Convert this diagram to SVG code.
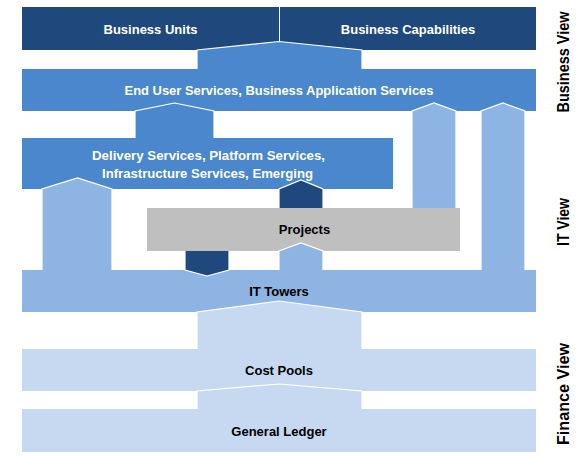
<svg xmlns="http://www.w3.org/2000/svg" width="587" height="457" viewBox="0 0 587 457">
<style>
.navy{fill:#1F497D}
.mid{fill:#4A87CC}
.light{fill:#8DB4E2}
.pale{fill:#C6D9F1}
.gray{fill:#BFBFBF}
.arrow{stroke:#FFFFFF;stroke-width:1.2;stroke-linejoin:miter}
.t{font-family:"Liberation Sans",Arial,sans-serif;font-weight:bold;font-size:13px;text-anchor:middle}
.w{fill:#FFFFFF}
.k{fill:#000000}
.side{font-family:"Liberation Sans",Arial,sans-serif;font-weight:bold;font-size:16px;text-anchor:middle;fill:#000000}
</style>
<rect width="587" height="457" fill="#FFFFFF"/>
<g id="business-units">
<rect class="navy" x="22" y="7" width="257" height="43"/>
<text class="t w" x="150.5" y="34">Business Units</text>
</g>
<g id="business-capabilities">
<rect class="navy" x="280" y="7" width="256" height="43"/>
<text class="t w" x="408" y="34">Business Capabilities</text>
</g>
<g id="end-user-services">
<rect class="mid" x="22" y="69" width="514" height="42"/>
</g>
<g id="delivery-services">
<rect class="mid" x="22" y="138" width="371" height="51"/>
</g>
<g id="projects">
<rect class="gray" x="147" y="208" width="313" height="43"/>
</g>
<g id="it-towers">
<rect class="light" x="22" y="270" width="514" height="42"/>
</g>
<g id="cost-pools">
<rect class="pale" x="22" y="349" width="514" height="42"/>
</g>
<g id="general-ledger">
<rect class="pale" x="22" y="409" width="514" height="43"/>
<text class="t k" x="279" y="436">General Ledger</text>
</g>
<g id="connectors">
<path class="mid arrow" d="M197,69 L197,50 L279,41.5 L362,50 L362,69"/>
<path class="mid arrow" d="M135,138 L135,111 L174.5,103 L214,111 L214,138"/>
<path class="light arrow" d="M42,270 L42,189 L77.5,178 L112,189 L112,270"/>
<path class="light arrow" d="M412,208 L412,111 L434,103 L456,111 L456,208"/>
<path class="light arrow" d="M481,270 L481,111 L503,103 L525,111 L525,270"/>
<path class="navy arrow" d="M279,208 L279,189 L301,180 L323,189 L323,208"/>
<path class="navy arrow" d="M185,251 L185,270 L207,276 L229,270 L229,251"/>
<path class="light arrow" d="M279,270 L279,251 L301,243 L323,251 L323,270"/>
<path class="pale arrow" d="M197,349 L197,312 L279,301 L362,312 L362,349"/>
<path class="pale arrow" d="M197,409 L197,391 L279,384 L362,391 L362,409"/>
</g>
<g id="labels">
<text class="t w" x="279" y="95" textLength="309" lengthAdjust="spacingAndGlyphs">End User Services, Business Application Services</text>
<text class="t w" x="208.5" y="160" textLength="233" lengthAdjust="spacingAndGlyphs">Delivery Services, Platform Services,</text>
<text class="t w" x="207.5" y="178" textLength="211" lengthAdjust="spacingAndGlyphs">Infrastructure Services, Emerging</text>
<text class="t k" x="304.5" y="234">Projects</text>
<text class="t k" x="279" y="296">IT Towers</text>
<text class="t k" x="279" y="375">Cost Pools</text>
</g>
<g id="view-business">
<text class="side" transform="translate(569,62) rotate(-90)" textLength="101" lengthAdjust="spacingAndGlyphs">Business View</text>
</g>
<g id="view-it">
<text class="side" transform="translate(569,222) rotate(-90)" textLength="48" lengthAdjust="spacingAndGlyphs">IT View</text>
</g>
<g id="view-finance">
<text class="side" transform="translate(569,394) rotate(-90)" textLength="102" lengthAdjust="spacingAndGlyphs">Finance View</text>
</g>
</svg>
